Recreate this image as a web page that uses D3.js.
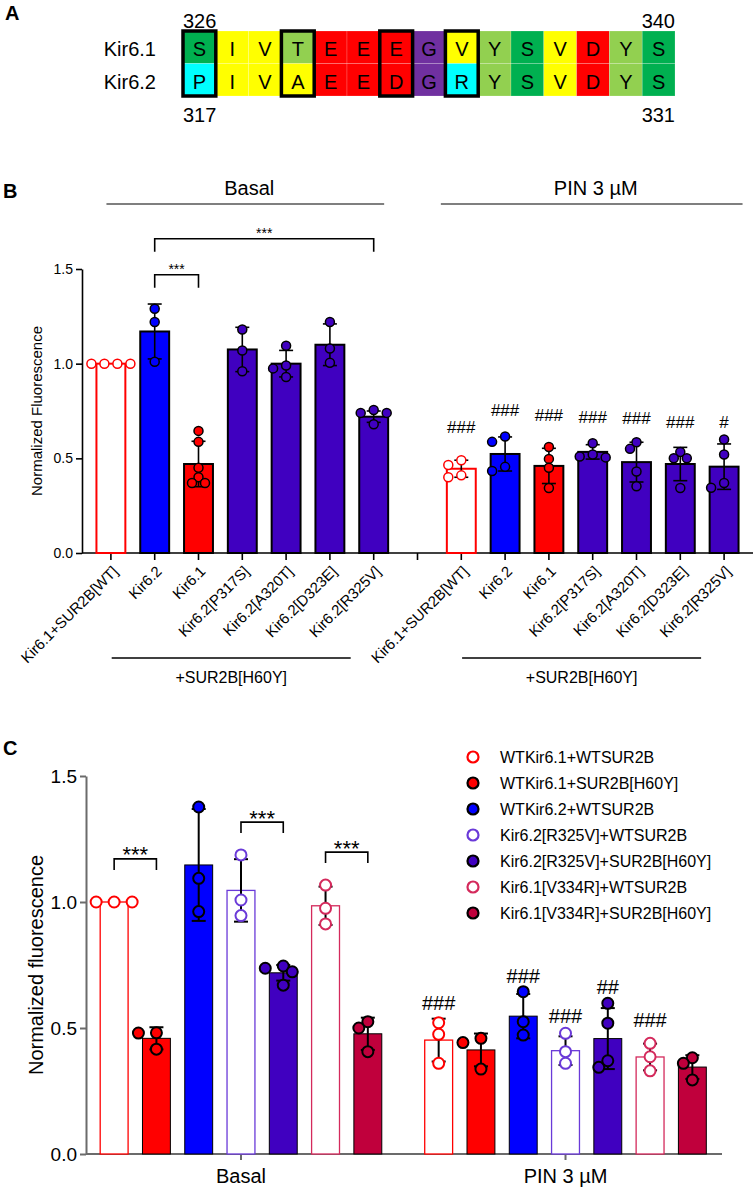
<!DOCTYPE html>
<html>
<head>
<meta charset="utf-8">
<script src="https://cdn.jsdelivr.net/npm/d3@7"></script>
<style>
  body { margin: 0; background: #fff; }
  svg { display: block; font-family: "Liberation Sans", Arial, Helvetica, sans-serif; }
</style>
</head>
<body>
<svg id="fig" width="756" height="1190"></svg>
<script>
// ---- panel A: sequence alignment ----
const rowNames = ["Kir6.1", "Kir6.2"];
const seq61 = ["S", "I", "V", "T", "E", "E", "E", "G", "V", "Y", "S", "V", "D", "Y", "S"];
const seq62 = ["P", "I", "V", "A", "E", "E", "D", "G", "R", "Y", "S", "V", "D", "Y", "S"];
const boxedCols = [0, 3, 6, 8];
const startNums = ["326", "317"];
const endNums = ["340", "331"];

// ---- panel B ----
const bCats = ["Kir6.1+SUR2B[WT]", "Kir6.2", "Kir6.1", "Kir6.2[P317S]", "Kir6.2[A320T]", "Kir6.2[D323E]", "Kir6.2[R325V]"];
const bBasalMean = [1.0, 1.17, 0.47, 1.075, 1.0, 1.1, 0.72];
const bBasalSD = [0, 0.145, 0.12, 0.117, 0.07, 0.11, 0.03];
const bBasalPts = [
  [1, 1, 1, 1], [1.29, 1.22, 1.01], [0.645, 0.587, 0.45, 0.4, 0.37, 0.37],
  [1.18, 1.07, 0.96], [1.095, 0.99, 0.975, 0.93], [1.22, 1.08, 1.005], [0.755, 0.74, 0.74, 0.68]
];
const bPinMean = [0.445, 0.523, 0.46, 0.534, 0.48, 0.47, 0.456];
const bPinSD = [0.045, 0.09, 0.093, 0.038, 0.105, 0.088, 0.12];
const bPinPts = [
  [0.49, 0.465, 0.41, 0.4], [0.615, 0.587, 0.455, 0.433], [0.56, 0.497, 0.45, 0.343],
  [0.58, 0.52, 0.51, 0.505], [0.585, 0.55, 0.43, 0.353], [0.533, 0.5, 0.5, 0.343], [0.6, 0.52, 0.37, 0.345]
];
const bPinMarks = ["###", "###", "###", "###", "###", "###", "#"];
const bPinMarkAt = [0.666, 0.755, 0.729, 0.718, 0.713, 0.692, 0.692];
const bTicks = [0, 0.5, 1.0, 1.5];
// brackets: [from category, to category, level]
const bBrackets = [[1, 2, 1.47], [1, 6, 1.66]];

// ---- panel C ----
const cGroups = ["Basal", "PIN 3 µM"];
const cSeries = ["WTKir6.1+WTSUR2B", "WTKir6.1+SUR2B[H60Y]", "WTKir6.2+WTSUR2B", "Kir6.2[R325V]+WTSUR2B",
  "Kir6.2[R325V]+SUR2B[H60Y]", "Kir6.1[V334R]+WTSUR2B", "Kir6.1[V334R]+SUR2B[H60Y]"];
const cBasalMean = [1.0, 0.459, 1.147, 1.046, 0.719, 0.985, 0.477];
const cBasalSD = [0, 0.044, 0.222, 0.124, 0.031, 0.076, 0.064];
const cBasalPts = [
  [1, 1, 1], [0.481, 0.48, 0.416], [1.377, 1.094, 0.962], [1.187, 1.008, 0.946],
  [0.746, 0.737, 0.723, 0.67], [1.067, 0.975, 0.913], [0.525, 0.5, 0.406]
];
const cPinMean = [0.452, 0.413, 0.547, 0.41, 0.458, 0.385, 0.345];
const cPinSD = [0.085, 0.065, 0.088, 0.057, 0.121, 0.053, 0.047];
const cPinPts = [
  [0.521, 0.475, 0.36], [0.459, 0.442, 0.337], [0.644, 0.525, 0.472], [0.479, 0.406, 0.36],
  [0.598, 0.519, 0.37, 0.344], [0.439, 0.386, 0.33], [0.382, 0.36, 0.294]
];
const cPinMarks = ["###", "", "###", "###", "##", "###", ""];
const cPinMarkAt = [0.599, 0, 0.706, 0.548, 0.663, 0.532, 0];
const cTicks = [0, 0.5, 1.0, 1.5];
const cBrackets = [[0, 1, 1.171], [3, 4, 1.317], [5, 6, 1.198]];

// styles
const resColor = {
  S: "#00b050", T: "#92d050", Y: "#92d050", P: "#00ffff", R: "#00ffff",
  I: "#ffff00", V: "#ffff00", A: "#ffff00", E: "#ff0000", D: "#ff0000", G: "#7030a0"
};
const red = "#ff0000", blue = "#0000ff", purple = "#4000c0", crimson = "#c0003c";
const bStyle = [
  { color: red, open: true }, { color: blue }, { color: red },
  { color: purple }, { color: purple }, { color: purple }, { color: purple }
];
const cStyle = [
  { color: red, open: true }, { color: red }, { color: blue }, { color: "#6a3ad8", open: true },
  { color: purple }, { color: "#d42a5c", open: true }, { color: crimson }
];

const svg = d3.select("#fig");

function panelLetter(t, x, y) {
  svg.append("text").attr("x", x).attr("y", y).attr("font-size", 20).attr("font-weight", "bold").text(t);
}

// spread points sideways when they collide, like a scatter dot plot
function dodge(vals, y, thresh, step) {
  const placed = [];
  const out = vals.map(function (v) {
    const py = y(v);
    let off = 0;
    for (let k = 0; k < 9; k++) {
      const cand = k === 0 ? 0 : (k % 2 ? -1 : 1) * Math.ceil(k / 2) * step;
      if (placed.every(p => Math.hypot(p.x - cand, p.y - py) >= thresh)) {
        off = cand;
        break;
      }
    }
    placed.push({ x: off, y: py });
    return { v: v, off: off };
  });
  // keep a row of equal values centred on the bar
  const shift = (d3.min(out, d => d.off) + d3.max(out, d => d.off)) / 2;
  if (out.every(d => d.v === out[0].v)) out.forEach(d => { d.off -= shift; });
  return out;
}

function barWithDots(g, cx, w, mean, sd, pts, y, st, o) {
  g.append("rect")
    .attr("x", cx - w / 2).attr("y", y(mean))
    .attr("width", w).attr("height", y(0) - y(mean))
    .attr("fill", st.open ? "#fff" : st.color)
    .attr("stroke", st.open ? st.color : "#000")
    .attr("stroke-width", st.open ? o.openStroke : o.barStroke);
  if (sd > 0) {
    const eb = g.append("g").attr("stroke", "#000").attr("stroke-width", o.errStroke);
    eb.append("line").attr("x1", cx).attr("x2", cx).attr("y1", y(mean + sd)).attr("y2", y(mean - sd));
    [mean + sd, mean - sd].forEach(function (v) {
      eb.append("line").attr("x1", cx - 7).attr("x2", cx + 7).attr("y1", y(v)).attr("y2", y(v));
    });
  }
  g.selectAll(null)
    .data(dodge(pts, y, o.thresh, o.step))
    .join("circle")
    .attr("cx", d => cx + d.off)
    .attr("cy", d => y(d.v))
    .attr("r", o.r)
    .attr("fill", st.open ? "#fff" : st.color)
    .attr("stroke", st.open ? st.color : "#000")
    .attr("stroke-width", o.dotStroke);
}

function bracket(g, x1, x2, yTop, leg, fontSize, starOffset) {
  g.append("path")
    .attr("d", `M${x1},${yTop + leg}V${yTop}H${x2}V${yTop + leg}`)
    .attr("fill", "none").attr("stroke", "#000").attr("stroke-width", 1.6);
  g.append("text")
    .attr("x", (x1 + x2) / 2).attr("y", yTop + starOffset)
    .attr("text-anchor", "middle").attr("font-size", fontSize).text("***");
}

// ================= Panel A =================
panelLetter("A", 5, 20);
const gA = svg.append("g");
const ax = d3.scaleBand().domain(d3.range(seq61.length)).range([183, 675]);
const ay = d3.scaleBand().domain(rowNames).range([31, 96]);
[seq61, seq62].forEach(function (row, i) {
  const yy = ay(rowNames[i]);
  gA.append("g").selectAll("rect").data(row).join("rect")
    .attr("x", (d, j) => ax(j)).attr("y", yy)
    .attr("width", ax.bandwidth()).attr("height", ay.bandwidth())
    .attr("fill", d => resColor[d])
    .attr("stroke", "rgba(255,255,255,0.3)").attr("stroke-width", 0.6);
  gA.append("g").selectAll("text").data(row).join("text")
    .attr("x", (d, j) => ax(j) + ax.bandwidth() / 2)
    .attr("y", yy + ay.bandwidth() / 2 + 2)
    .attr("dy", "0.35em").attr("text-anchor", "middle").attr("font-size", 20)
    .text(d => d);
  gA.append("text").attr("x", 156).attr("y", yy + ay.bandwidth() / 2 + 2)
    .attr("dy", "0.35em").attr("text-anchor", "end").attr("font-size", 20).text(rowNames[i]);
});
gA.selectAll(".box").data(boxedCols).join("rect")
  .attr("x", d => ax(d)).attr("y", ay.range()[0])
  .attr("width", ax.bandwidth()).attr("height", ay.range()[1] - ay.range()[0])
  .attr("fill", "none").attr("stroke", "#000").attr("stroke-width", 3.5);
[[startNums[0], 28], [startNums[1], 122]].forEach(function (d) {
  gA.append("text").attr("x", ax(0)).attr("y", d[1]).attr("font-size", 20).text(d[0]);
});
[[endNums[0], 28], [endNums[1], 122]].forEach(function (d) {
  gA.append("text").attr("x", ax(seq61.length - 1) + ax.bandwidth()).attr("y", d[1])
    .attr("text-anchor", "end").attr("font-size", 20).text(d[0]);
});

// ================= Panel B =================
panelLetter("B", 3, 198);
const gB = svg.append("g");
const bKeys = bCats.map((d, i) => "b" + i).concat(["gap"], bCats.map((d, i) => "p" + i));
const bx = d3.scaleBand().domain(bKeys).range([89, 746]).paddingInner(0.34).paddingOuter(0.17);
const by = d3.scaleLinear().domain([0, 1.5]).range([553, 269]);
const bw = bx.bandwidth();
const bc = k => bx(k) + bw / 2;

const bYAxis = gB.append("g").attr("transform", "translate(82,0)")
  .call(d3.axisLeft(by).tickValues(bTicks).tickFormat(d3.format(".1f")).tickSize(6).tickSizeOuter(0));
bYAxis.selectAll("path, line").attr("stroke", "#000").attr("stroke-width", 1.6);
bYAxis.selectAll("text").attr("font-size", 14).attr("font-family", null).attr("fill", "#000");

const bXAxis = gB.append("g").attr("transform", "translate(0,553)")
  .call(d3.axisBottom(bx).tickSize(7).tickSizeOuter(0)
    .tickFormat(k => k === "gap" ? "" : bCats[+k.slice(1)]));
bXAxis.select(".domain").attr("d", "M82,0H753");
bXAxis.selectAll("path, line").attr("stroke", "#000").attr("stroke-width", 1.6);
bXAxis.selectAll("text")
  .attr("font-size", 15).attr("font-family", null).attr("fill", "#000")
  .attr("x", -8).attr("y", 14).attr("dy", "0.35em")
  .attr("transform", "rotate(-45)").style("text-anchor", "end");

bCats.forEach(function (c, i) {
  const o = { barStroke: 2, openStroke: 2, errStroke: 1.6, r: 4.5, dotStroke: 1.5, thresh: 8.5, step: 6.5 };
  barWithDots(gB, bc("b" + i), bw, bBasalMean[i], bBasalSD[i], bBasalPts[i], by, bStyle[i], o);
  barWithDots(gB, bc("p" + i), bw, bPinMean[i], bPinSD[i], bPinPts[i], by, bStyle[i], o);
  gB.append("text").attr("x", bc("p" + i)).attr("y", by(bPinMarkAt[i]) + 6)
    .attr("text-anchor", "middle").attr("font-size", 17).text(bPinMarks[i]);
});

bBrackets.forEach(function (b) {
  bracket(gB, bc("b" + b[0]), bc("b" + b[1]), by(b[2]), 13, 14, -1);
});

// group headers and underlines
[["Basal", bx("b0") + 10, bx("b6") + bw - 4], ["PIN 3 µM", bx("p0") - 6, bx("p6") + bw + 4]].forEach(function (h) {
  gB.append("line").attr("x1", h[1]).attr("x2", h[2]).attr("y1", 204).attr("y2", 204)
    .attr("stroke", "#555").attr("stroke-width", 1.6);
  gB.append("text").attr("x", (h[1] + h[2]) / 2 + 4).attr("y", 195)
    .attr("text-anchor", "middle").attr("font-size", 20).text(h[0]);
});
[["b1", "b6"], ["p1", "p6"]].forEach(function (s) {
  const x1 = bc(s[0]) - 43, x2 = bc(s[1]) - 23;
  gB.append("line").attr("x1", x1).attr("x2", x2).attr("y1", 658).attr("y2", 658)
    .attr("stroke", "#000").attr("stroke-width", 1.4);
  gB.append("text").attr("x", (x1 + x2) / 2).attr("y", 683)
    .attr("text-anchor", "middle").attr("font-size", 16).text("+SUR2B[H60Y]");
});

gB.append("text")
  .attr("transform", `translate(42,${(by(0) + by(1.5)) / 2}) rotate(-90)`)
  .attr("text-anchor", "middle").attr("font-size", 15).text("Normalized Fluorescence");

// ================= Panel C =================
panelLetter("C", 3, 755);
const gC = svg.append("g");
const cx0 = d3.scaleBand().domain(cGroups).range([93, 713.5]).paddingInner(0.088);
const cx1 = d3.scaleBand().domain(cSeries).range([0, cx0.bandwidth()]).paddingInner(0.34).paddingOuter(0.17);
const cy = d3.scaleLinear().domain([0, 1.5]).range([1154, 776]);
const cw = cx1.bandwidth();
const cc = (g, s) => cx0(g) + cx1(s) + cw / 2;
const axisGray = "#6b6b6b";

const cYAxis = gC.append("g").attr("transform", "translate(86,0)")
  .call(d3.axisLeft(cy).tickValues(cTicks).tickFormat(d3.format(".1f")).tickSize(6).tickSizeOuter(0));
cYAxis.selectAll("path, line").attr("stroke", axisGray).attr("stroke-width", 2);
cYAxis.selectAll("text").attr("font-size", 19).attr("font-family", null).attr("fill", "#000");

const cXAxis = gC.append("g").attr("transform", "translate(0,1154)")
  .call(d3.axisBottom(cx0).tickSize(6).tickSizeOuter(0));
cXAxis.select(".domain").attr("d", "M86,0H722");
cXAxis.selectAll("path, line").attr("stroke", axisGray).attr("stroke-width", 2);
cXAxis.selectAll("text").attr("font-size", 20).attr("font-family", null).attr("fill", "#000")
  .attr("y", 29).attr("dy", null);

cSeries.forEach(function (s, i) {
  const o = { barStroke: 1, openStroke: 1.3, errStroke: 2, r: 5.5, dotStroke: 2, thresh: 10, step: 9 };
  barWithDots(gC, cc(cGroups[0], s), cw, cBasalMean[i], cBasalSD[i], cBasalPts[i], cy, cStyle[i], o);
  barWithDots(gC, cc(cGroups[1], s), cw, cPinMean[i], cPinSD[i], cPinPts[i], cy, cStyle[i], o);
  if (cPinMarks[i]) {
    gC.append("text").attr("x", cc(cGroups[1], s)).attr("y", cy(cPinMarkAt[i]) + 7)
      .attr("text-anchor", "middle").attr("font-size", 20).text(cPinMarks[i]);
  }
});

cBrackets.forEach(function (b) {
  bracket(gC, cc(cGroups[0], cSeries[b[0]]), cc(cGroups[0], cSeries[b[1]]), cy(b[2]), 11, 22, 3.5);
});

gC.append("text")
  .attr("transform", `translate(43,${(cy(0) + cy(1.5)) / 2}) rotate(-90)`)
  .attr("text-anchor", "middle").attr("font-size", 20).text("Normalized fluorescence");

// legend
const leg = gC.append("g").attr("transform", "translate(473,757)");
const legItem = leg.selectAll("g").data(cSeries).join("g")
  .attr("transform", (d, i) => `translate(0,${i * 26})`);
legItem.append("circle").attr("r", 5.5)
  .attr("fill", (d, i) => cStyle[i].open ? "#fff" : cStyle[i].color)
  .attr("stroke", (d, i) => cStyle[i].open ? cStyle[i].color : "#000")
  .attr("stroke-width", 2.2);
legItem.append("text").attr("x", 27).attr("dy", "0.35em").attr("font-size", 16).text(d => d);
</script>
</body>
</html>
